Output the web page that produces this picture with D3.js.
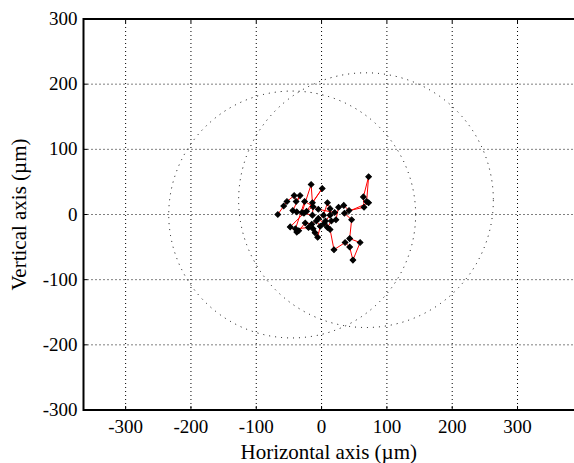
<!DOCTYPE html>
<html>
<head>
<meta charset="utf-8">
<script src="https://cdn.jsdelivr.net/npm/d3@7"></script>
<style>
  body { margin: 0; background: #fff; }
  text { font-family: "Liberation Serif", "DejaVu Serif", serif; fill: #000; }
</style>
</head>
<body>
<div id="root"></div>
<script>
// track positions (µm), in recorded order
const xs = [-67, -58, -53, -42, -39, -33, -44, -38, -30, -16, -14, 1, -23, -13, -14, -27,
  -48, -38, -35, -25, -15, -13, -10, -6, -2, -8, 3, 9, 13, 13, 6, 9, 15, 22, 26, 34, 42,
  65, 64, 72, 69, 72, 35, 46, 43, 59, 48, 43, 36, 19, 13, 4, -5, -20, -40, -26, -5, 20];
const ys = [0, 13, 20, 29, 20, 29, 6, 4, 3, 46, 18, 40, 5, 12, -1, 2,
  -19, -27, -25, -13, -15, -22, -28, -35, -18, -10, -1, 18, 9, -1, -10, -20, -10, -8, 11, 14, 6,
  11, 27, 58, 20, 18, 2, -8, -37, -43, -70, -50, -43, -54, -23, -14, -6, -20, -22, 20, 8, 3];

// dotted reference circles: centre x, centre y, radius (µm)
const circleCx = [-45, 68];
const circleCy = [0, 22];
const circleR = [189, 195];

const xTicks = [-300, -200, -100, 0, 100, 200, 300];
const yTicks = [-300, -200, -100, 0, 100, 200, 300];

const svg = d3.select("#root")
  .append("svg")
  .attr("width", 574)
  .attr("height", 463);

const x = d3.scaleLinear().domain([-364.5, 388]).range([83.5, 575]);
const y = d3.scaleLinear().domain([-300, 300]).range([410, 19]);

const pLeft = x.range()[0], pRight = x.range()[1];
const pTop = y.range()[1], pBottom = y.range()[0];

// grid
svg.append("g")
  .selectAll("line")
  .data(xTicks)
  .enter().append("line")
    .attr("x1", d => x(d)).attr("x2", d => x(d))
    .attr("y1", pTop).attr("y2", pBottom)
    .attr("stroke", "#000").attr("stroke-width", 1)
    .attr("stroke-dasharray", "1,3");

svg.append("g")
  .selectAll("line")
  .data(yTicks)
  .enter().append("line")
    .attr("x1", pLeft).attr("x2", pRight)
    .attr("y1", d => y(d)).attr("y2", d => y(d))
    .attr("stroke", "#000").attr("stroke-width", 1)
    .attr("stroke-dasharray", "1,3");

// circles
svg.append("g")
  .selectAll("circle")
  .data(circleR)
  .enter().append("circle")
    .attr("cx", (d, i) => x(circleCx[i]))
    .attr("cy", (d, i) => y(circleCy[i]))
    .attr("r", d => x(d) - x(0))
    .attr("fill", "none")
    .attr("stroke", "#000")
    .attr("stroke-width", 1)
    .attr("stroke-dasharray", "1,5");

// track
const pts = xs.map((d, i) => [d, ys[i]]);

svg.append("path")
  .datum(pts)
  .attr("fill", "none")
  .attr("stroke", "#ff0000")
  .attr("stroke-width", 1)
  .attr("d", d3.line().x(d => x(d[0])).y(d => y(d[1])));

svg.append("g")
  .selectAll("path")
  .data(pts)
  .enter().append("path")
    .attr("d", d3.symbol().type(d3.symbolSquare).size(16))
    .attr("transform", d => "translate(" + x(d[0]) + "," + y(d[1]) + ") rotate(45)")
    .attr("fill", "#000")
    .attr("stroke", "#000")
    .attr("stroke-width", 1);

// ticks (inward)
const tk = svg.append("g").attr("stroke", "#000").attr("stroke-width", 1);
xTicks.forEach(d => {
  tk.append("line").attr("x1", x(d)).attr("x2", x(d)).attr("y1", pBottom).attr("y2", pBottom - 4);
  tk.append("line").attr("x1", x(d)).attr("x2", x(d)).attr("y1", pTop).attr("y2", pTop + 4);
});
yTicks.forEach(d => {
  tk.append("line").attr("x1", pLeft).attr("x2", pLeft + 4).attr("y1", y(d)).attr("y2", y(d));
});

// frame
svg.append("path")
  .attr("d", "M" + pRight + "," + pTop + "H" + pLeft + "V" + pBottom + "H" + pRight)
  .attr("fill", "none")
  .attr("stroke", "#000")
  .attr("stroke-width", 2);

// tick labels
svg.append("g")
  .selectAll("text")
  .data(xTicks)
  .enter().append("text")
    .attr("x", d => x(d))
    .attr("y", pBottom + 23)
    .attr("text-anchor", "middle")
    .attr("font-size", 19)
    .text(d => d);

svg.append("g")
  .selectAll("text")
  .data(yTicks)
  .enter().append("text")
    .attr("x", pLeft - 6)
    .attr("y", d => y(d) + 6)
    .attr("text-anchor", "end")
    .attr("font-size", 19)
    .text(d => d);

// axis titles
svg.append("text")
  .attr("x", (pLeft + 574) / 2)
  .attr("y", 459)
  .attr("text-anchor", "middle")
  .attr("font-size", 21)
  .text("Horizontal axis (\u00b5m)");

svg.append("text")
  .attr("transform", "translate(26," + ((pTop + pBottom) / 2) + ") rotate(-90)")
  .attr("text-anchor", "middle")
  .attr("font-size", 21)
  .text("Vertical axis (\u00b5m)");
</script>
</body>
</html>
